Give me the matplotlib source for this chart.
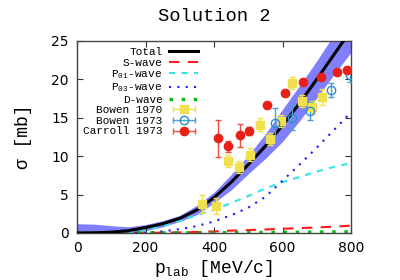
import matplotlib
matplotlib.use("Agg")
import matplotlib.pyplot as plt
import numpy as np
from matplotlib.lines import Line2D
from matplotlib.legend_handler import HandlerLine2D

plt.rcParams["mathtext.fontset"] = "custom"
plt.rcParams["mathtext.rm"] = "Liberation Mono"
plt.rcParams["mathtext.it"] = "Liberation Mono"

MONO = ["Liberation Mono", "DejaVu Sans Mono"]

# ── Model curves ───────────────────────────────────────────────────────────────
p_curve  = [0, 50, 100, 150, 200, 250, 300, 350, 400, 450, 500, 550, 600, 650, 700, 750, 800]
total    = [0.0, 0.02, 0.1, 0.3, 0.7, 1.2, 1.9, 3.0, 4.6, 6.6, 8.9, 11.3, 14.0, 16.9, 20.0, 23.2, 26.4]
band_lo  = [0.0, 0.0, 0.0, 0.0, 0.3, 0.8, 1.5, 2.4, 3.9, 5.6, 7.7, 9.7, 11.9, 14.6, 17.6, 20.6, 23.5]
band_hi  = [1.2, 1.15, 0.95, 0.8, 1.1, 1.6, 2.3, 3.6, 5.3, 7.6, 10.1, 12.9, 16.1, 19.2, 22.4, 25.8, 29.3]
s_wave   = [0.0, 0.0, 0.0, 0.01, 0.02, 0.04, 0.08, 0.13, 0.2, 0.3, 0.38, 0.45, 0.55, 0.63, 0.72, 0.82, 0.95]
p01_wave = [0.0, 0.0, 0.02, 0.1, 0.4, 0.9, 1.6, 2.3, 3.0, 3.9, 4.8, 5.8, 6.6, 7.3, 8.0, 8.6, 9.1]
p03_wave = [0.0, 0.0, 0.0, 0.01, 0.05, 0.2, 0.5, 0.9, 1.5, 2.3, 3.3, 4.7, 6.8, 8.9, 11.1, 13.4, 15.7]
d_wave   = [0.0, 0.0, 0.0, 0.0, 0.0, 0.0, 0.01, 0.02, 0.03, 0.04, 0.05, 0.06, 0.08, 0.09, 0.11, 0.13, 0.15]

# ── Data points ────────────────────────────────────────────────────────────────
bowen70_p   = [365, 406, 441, 473, 505, 534, 564, 596, 628, 657, 686, 715]
bowen70_s   = [3.8, 3.5, 9.4, 8.6, 10.2, 14.1, 12.2, 14.6, 19.5, 17.2, 16.4, 17.7]
bowen70_err = [1.2, 1.0, 0.8, 0.8, 0.8, 0.8, 0.8, 0.8, 0.8, 0.8, 0.8, 1.0]

bowen73_p   = [578, 628, 680, 741, 797]
bowen73_s   = [14.3, 15.0, 15.9, 18.6, 20.6]
bowen73_err = [2.0, 1.6, 1.2, 0.9, 1.0]

carroll_p   = [412, 441, 476, 502, 555, 607, 660, 712, 759, 788]
carroll_s   = [12.3, 11.3, 12.7, 13.3, 16.7, 18.2, 19.7, 20.3, 20.9, 21.2]
carroll_err = [2.4, 0.7, 1.5, 0.5, 0.4, 0.4, 0.4, 0.4, 0.4, 0.4]

YELLOW = "#f0e050"
BLUE73 = "#2a8fc8"
RED    = "#e82018"

fig = plt.figure(figsize=(4.0, 2.8), dpi=100)
ax = fig.add_axes([0.1925, 0.168, 0.685, 0.686])

ax.fill_between(p_curve, band_lo, band_hi, color="#8080ff", lw=0, zorder=1)
h_tot, = ax.plot(p_curve, total, color="black", lw=2.2, zorder=3)
h_s,   = ax.plot(p_curve, s_wave, color="#ff1a1a", lw=1.5, ls=(0, (5, 4)), zorder=2)
h_p01, = ax.plot(p_curve, p01_wave, color="#33e6e6", lw=1.5, ls=(0, (3, 3)), zorder=2)
h_p03, = ax.plot(p_curve, p03_wave, color="#1a1aff", lw=1.5, ls=(0, (1, 3)), zorder=2)
h_d,   = ax.plot(p_curve, d_wave, color="#11bb11", lw=2.5, ls=(0, (1, 2.5)), zorder=2)

ax.errorbar(bowen70_p, bowen70_s, yerr=bowen70_err, fmt="s", ms=6, color=YELLOW,
            mec=YELLOW, elinewidth=1, capsize=2, zorder=4)
ax.errorbar(bowen73_p, bowen73_s, yerr=bowen73_err, fmt="o", ms=6, mfc="none",
            mec=BLUE73, ecolor="#4aa0d0", elinewidth=1, capsize=2, zorder=4)
ax.errorbar(carroll_p, carroll_s, yerr=carroll_err, fmt="o", ms=6, color=RED,
            ecolor="#f05040", elinewidth=1, capsize=2, zorder=5)

ax.set_xlim(0, 800)
ax.set_ylim(0, 25)
ax.set_xticks(np.arange(0, 801, 200))
ax.set_yticks(np.arange(0, 26, 5))
ax.tick_params(direction="in", top=True, right=True, length=4, width=0.8,
               labelsize=10, colors="#333333", labelcolor="black", pad=6)
for sp in ax.spines.values():
    sp.set_color("#444444")
    sp.set_linewidth(1.0)

ax.set_title("Solution 2", fontfamily=MONO, fontsize=13.5, pad=14)
ax.set_xlabel("p$_{\\mathrm{lab}}$ [MeV/c]", fontfamily=MONO, fontsize=13, labelpad=2)
ax.set_ylabel("σ [mb]", fontfamily=MONO, fontsize=13, labelpad=14)

handles = [h_tot, h_s, h_p01, h_p03, h_d]
labels = ["Total", "S-wave", "P$_{01}$-wave", "P$_{03}$-wave", "D-wave"]
hmap = {}
# gnuplot-style keys: horizontal bar with end caps through the marker
for lab, mk, fc, ec, lc in [("Bowen 1970", "s", YELLOW, YELLOW, YELLOW),
                            ("Bowen 1973", "o", "none", BLUE73, "#4aa0d0"),
                            ("Carroll 1973", "o", RED, RED, "#f05040")]:
    bar = Line2D([], [], color=lc, lw=1, marker="|", ms=5, mew=1)
    pt = Line2D([], [], ls="none", marker=mk, ms=6, mfc=fc, mec=ec)
    hmap[bar] = HandlerLine2D(numpoints=2)
    handles.append((bar, pt))
    labels.append(lab)

leg = ax.legend(handles, labels, handler_map=hmap, loc="upper left", bbox_to_anchor=(0.0, 1.0),
                markerfirst=False, frameon=False, prop={"family": MONO, "size": 8},
                handlelength=2.6, handletextpad=0.6, labelspacing=0.05, borderaxespad=0.15)

fig.savefig("out.png", dpi=100)
